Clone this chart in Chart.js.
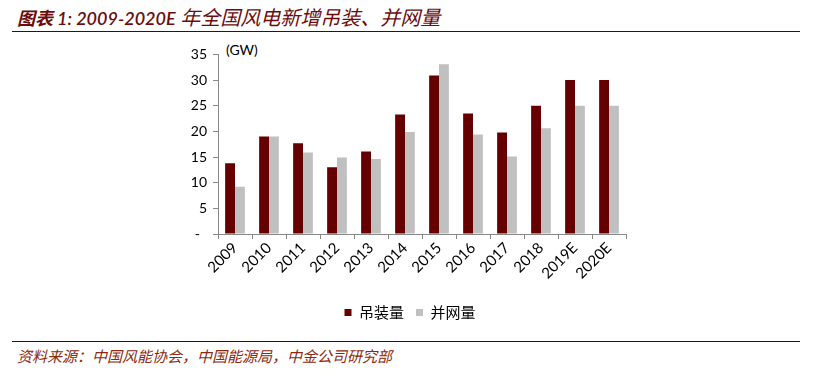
<!DOCTYPE html>
<html lang="zh">
<head>
<meta charset="UTF-8">
<title>图表 1</title>
<script src="https://cdn.jsdelivr.net/npm/chart.js"></script>
<style>
  body { margin: 0; width: 820px; height: 386px; background: #fff; position: relative; overflow: hidden; }
  .title { position: absolute; left: 17px; top: 2px; font: italic 20px Lato, "Noto Sans CJK SC"; color: #6b0d0d; white-space: nowrap; }
  .title b { font-weight: 600; font-size: 18px; }
  .rule { position: absolute; left: 12px; width: 788px; height: 1px; background: #5a0000; }
  .unit { position: absolute; left: 226px; top: 41px; font: 14px Lato, sans-serif; color: #000; }
  .source { position: absolute; left: 17px; top: 345px; font: italic 15px "Noto Sans CJK SC"; color: #8b2a10; white-space: nowrap; }
  #wrap { position: absolute; left: 0; top: 40px; width: 820px; height: 290px; }
</style>
</head>
<body>
<div class="title"><b>图表 1: 2009-2020E</b> 年全国风电新增吊装、并网量</div>
<div class="rule" style="top:31px"></div>
<div class="unit">(GW)</div>
<div id="wrap"><canvas id="windChart"></canvas></div>
<div class="rule" style="top:341px"></div>
<div class="source">资料来源：中国风能协会，中国能源局，中金公司研究部</div>

<script>
  const years = ['2009', '2010', '2011', '2012', '2013', '2014', '2015', '2016', '2017', '2018', '2019E', '2020E'];
  const installed = [13.8, 19.0, 17.7, 13.0, 16.1, 23.3, 30.9, 23.5, 19.8, 25.0, 30.0, 30.0];
  const connected = [9.2, 19.0, 15.9, 14.9, 14.6, 19.9, 33.1, 19.4, 15.1, 20.6, 25.0, 25.0];
  const yTicks = [0, 5, 10, 15, 20, 25, 30, 35];

  // nudge the legend a bit right so it sits under the page centre like the original
  const legendShift = {
    id: 'legendShift',
    afterLayout(chart) {
      chart.legend.left += 12;
      chart.legend.right += 12;
    }
  };

  const ctx = document.getElementById('windChart').getContext('2d');
  new Chart(ctx, {
    type: 'bar',
    data: {
      labels: years,
      datasets: [
        { label: '吊装量', data: installed, backgroundColor: '#660000' },
        { label: '并网量', data: connected, backgroundColor: '#c0c0c0' }
      ]
    },
    options: {
      responsive: true,
      maintainAspectRatio: false,
      animation: false,
      layout: { padding: { left: 170, right: 194, top: 8, bottom: 0 } },
      datasets: { bar: { categoryPercentage: 0.58, barPercentage: 1.0 } },
      scales: {
        x: {
          grid: { offset: true, drawOnChartArea: false, tickLength: 5, color: '#888' },
          border: { color: '#888' },
          ticks: { color: '#000', font: { family: 'Lato', size: 15 }, minRotation: 45, maxRotation: 45, padding: 0 },
          afterFit: s => { s.height = 59; }
        },
        y: {
          min: 0, max: 35,
          afterBuildTicks: s => { s.ticks = yTicks.map(v => ({ value: v })); },
          grid: { drawOnChartArea: false, tickLength: 5, color: '#888' },
          border: { color: '#888' },
          ticks: {
            color: '#000', font: { family: 'Lato', size: 14 }, padding: 6,
            callback: v => v === 0 ? '-  ' : v
          },
          afterFit: s => { s.width = 48; }
        }
      },
      plugins: {
        tooltip: { enabled: false },
        legend: {
          position: 'bottom',
          labels: { color: '#000', font: { family: 'Noto Sans CJK SC', size: 15 }, boxWidth: 7, boxHeight: 7, padding: 12 }
        }
      }
    },
    plugins: [legendShift]
  });
</script>
</body>
</html>
